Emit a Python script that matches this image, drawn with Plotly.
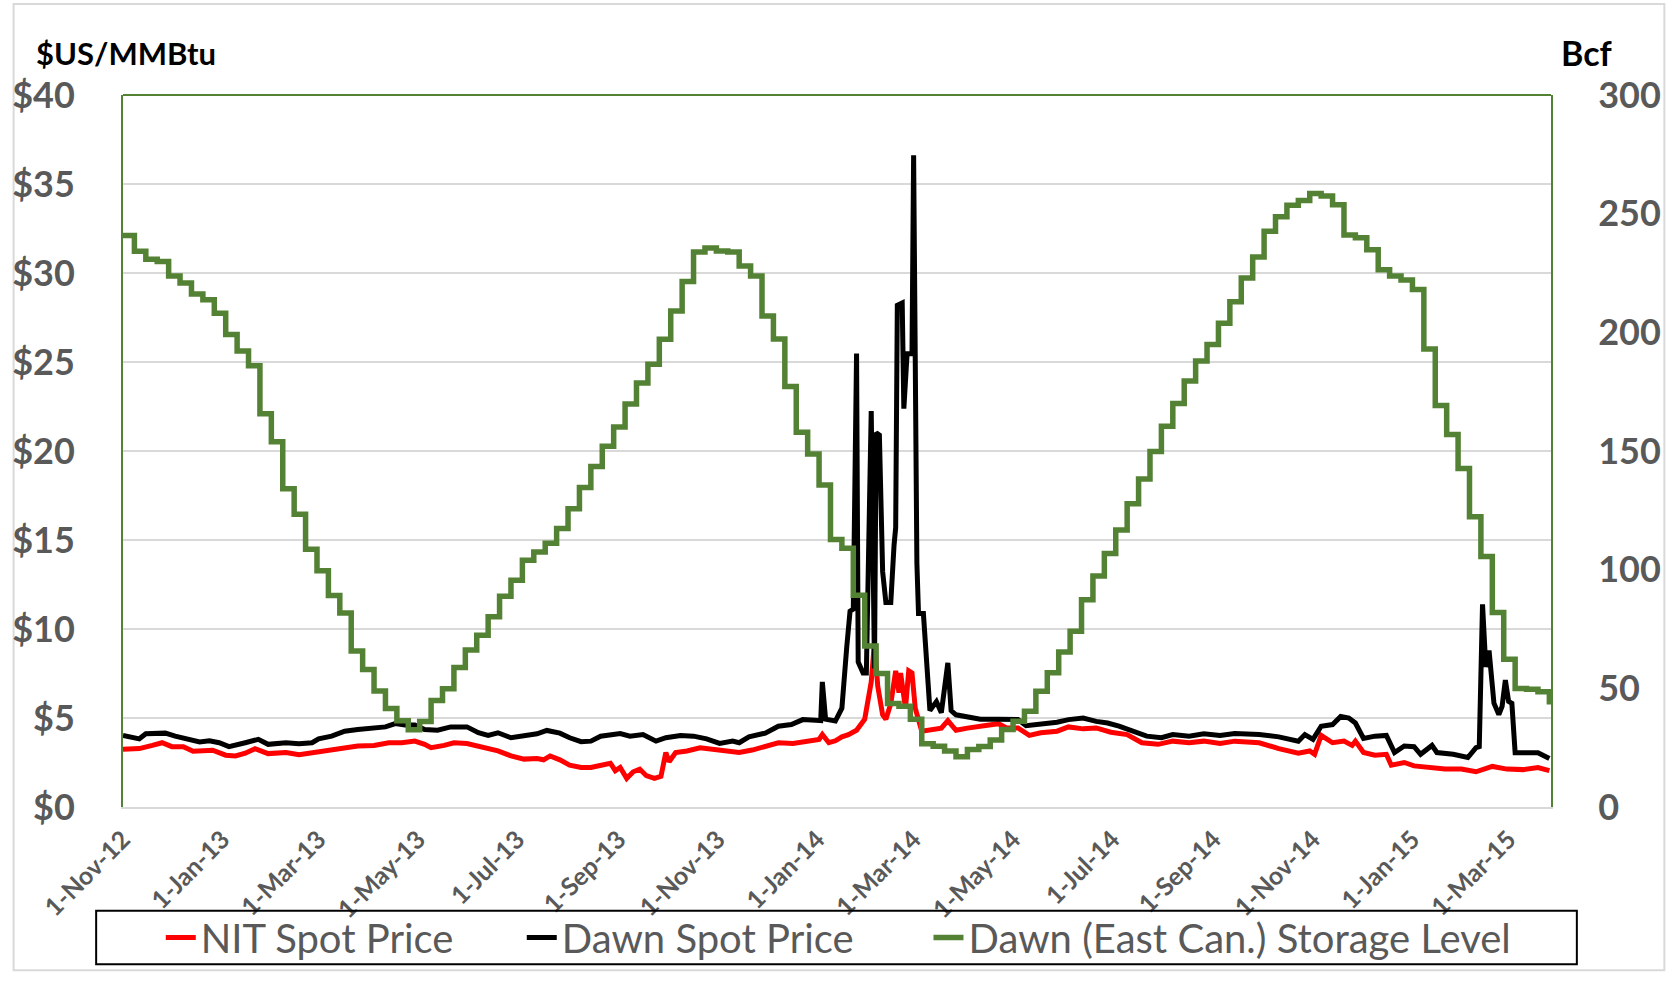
import pandas as pd
import plotly.graph_objects as go

# ---------------- data ----------------
nit_dates = [
    "2012-11-01", "2012-11-11", "2012-11-19", "2012-11-25", "2012-12-01", "2012-12-08",
    "2012-12-14", "2012-12-20", "2012-12-26", "2013-01-03", "2013-01-09", "2013-01-15",
    "2013-01-21", "2013-01-29", "2013-02-09", "2013-02-17", "2013-02-25", "2013-03-07",
    "2013-03-17", "2013-03-25", "2013-04-04", "2013-04-13", "2013-04-21", "2013-04-29",
    "2013-05-05", "2013-05-09", "2013-05-17", "2013-05-23", "2013-05-31", "2013-06-06",
    "2013-06-13", "2013-06-19", "2013-06-27", "2013-07-05", "2013-07-13", "2013-07-17",
    "2013-07-21", "2013-07-27", "2013-08-02", "2013-08-09", "2013-08-15", "2013-08-21",
    "2013-08-27", "2013-08-30", "2013-09-02", "2013-09-06", "2013-09-10", "2013-09-14",
    "2013-09-18", "2013-09-23", "2013-09-27", "2013-09-30", "2013-10-02", "2013-10-06",
    "2013-10-13", "2013-10-21", "2013-10-29", "2013-11-06", "2013-11-14", "2013-11-22",
    "2013-11-30", "2013-12-08", "2013-12-17", "2013-12-25", "2014-01-02", "2014-01-04",
    "2014-01-08", "2014-01-12", "2014-01-16", "2014-01-20", "2014-01-25", "2014-01-30",
    "2014-02-03", "2014-02-05", "2014-02-07", "2014-02-10", "2014-02-12", "2014-02-15",
    "2014-02-18", "2014-02-20", "2014-02-21", "2014-02-24", "2014-02-26", "2014-02-28",
    "2014-03-02", "2014-03-06", "2014-03-16", "2014-03-18", "2014-03-22", "2014-03-27",
    "2014-04-03", "2014-04-11", "2014-04-22", "2014-04-27", "2014-05-04", "2014-05-11",
    "2014-05-18", "2014-05-28", "2014-06-04", "2014-06-13", "2014-06-21", "2014-06-30",
    "2014-07-10", "2014-07-19", "2014-07-29", "2014-08-07", "2014-08-17", "2014-08-26",
    "2014-09-05", "2014-09-14", "2014-09-29", "2014-10-11", "2014-10-23", "2014-10-30",
    "2014-11-02", "2014-11-06", "2014-11-13", "2014-11-20", "2014-11-25", "2014-11-27",
    "2014-12-02", "2014-12-09", "2014-12-16", "2014-12-19", "2014-12-27", "2015-01-02",
    "2015-01-12", "2015-01-21", "2015-01-31", "2015-02-09", "2015-02-19", "2015-02-28",
    "2015-03-10", "2015-03-19", "2015-03-26",
]
nit_price = [
    3.24, 3.28, 3.46, 3.61, 3.39, 3.39,
    3.13, 3.13, 3.19, 2.91, 2.87, 3.02,
    3.28, 3.00, 3.06, 2.94, 3.06, 3.15,
    3.33, 3.43, 3.46, 3.61, 3.61, 3.70,
    3.52, 3.33, 3.46, 3.61, 3.57, 3.46,
    3.28, 3.15, 2.87, 2.69, 2.72, 2.65,
    2.87, 2.65, 2.35, 2.22, 2.22, 2.31,
    2.46, 2.04, 2.22, 1.61, 1.98, 2.13,
    1.76, 1.61, 1.72, 3.06, 2.54, 3.06,
    3.15, 3.33, 3.24, 3.15, 3.06, 3.20,
    3.39, 3.61, 3.57, 3.70, 3.80, 4.07,
    3.61, 3.72, 3.94, 4.06, 4.31, 4.93,
    7.03, 9.26, 6.79, 5.18, 4.93, 5.80,
    7.65, 6.42, 7.53, 5.55, 7.65, 7.53,
    5.55, 4.26, 4.36, 4.43, 4.85, 4.31,
    4.43, 4.56, 4.68, 4.44, 4.44, 4.02,
    4.17, 4.26, 4.50, 4.39, 4.44, 4.20,
    4.07, 3.61, 3.52, 3.70, 3.61, 3.70,
    3.57, 3.70, 3.61, 3.28, 3.02, 3.15,
    2.96, 4.02, 3.61, 3.70, 3.46, 3.70,
    3.06, 2.91, 2.96, 2.35, 2.50, 2.31,
    2.22, 2.13, 2.13, 1.98, 2.28, 2.13,
    2.10, 2.22, 2.04,
]

dawn_dates = [
    "2012-11-01", "2012-11-07", "2012-11-11", "2012-11-15", "2012-11-23", "2012-11-27",
    "2012-12-03", "2012-12-10", "2012-12-18", "2012-12-24", "2012-12-30", "2013-01-05",
    "2013-01-09", "2013-01-15", "2013-01-23", "2013-01-29", "2013-02-09", "2013-02-17",
    "2013-02-25", "2013-03-01", "2013-03-09", "2013-03-17", "2013-03-25", "2013-04-02",
    "2013-04-11", "2013-04-17", "2013-04-23", "2013-04-29", "2013-05-05", "2013-05-13",
    "2013-05-21", "2013-05-31", "2013-06-07", "2013-06-13", "2013-06-19", "2013-06-27",
    "2013-07-05", "2013-07-13", "2013-07-19", "2013-07-27", "2013-08-02", "2013-08-09",
    "2013-08-15", "2013-08-21", "2013-09-02", "2013-09-08", "2013-09-16", "2013-09-24",
    "2013-09-30", "2013-10-09", "2013-10-17", "2013-10-25", "2013-11-02", "2013-11-10",
    "2013-11-14", "2013-11-20", "2013-11-30", "2013-12-08", "2013-12-16", "2013-12-23",
    "2013-12-31", "2014-01-03", "2014-01-04", "2014-01-06", "2014-01-12", "2014-01-16",
    "2014-01-19", "2014-01-21", "2014-01-23", "2014-01-25", "2014-01-26", "2014-01-29",
    "2014-01-31", "2014-02-03", "2014-02-05", "2014-02-06", "2014-02-08", "2014-02-10",
    "2014-02-12", "2014-02-15", "2014-02-17", "2014-02-18", "2014-02-19", "2014-02-22",
    "2014-02-23", "2014-02-25", "2014-02-28", "2014-03-01", "2014-03-03", "2014-03-04",
    "2014-03-07", "2014-03-09", "2014-03-11", "2014-03-15", "2014-03-18", "2014-03-22",
    "2014-03-24", "2014-03-27", "2014-04-03", "2014-04-11", "2014-04-22", "2014-05-04",
    "2014-05-09", "2014-05-18", "2014-05-28", "2014-06-04", "2014-06-13", "2014-06-21",
    "2014-06-28", "2014-07-05", "2014-07-14", "2014-07-22", "2014-07-31", "2014-08-07",
    "2014-08-17", "2014-08-26", "2014-09-05", "2014-09-14", "2014-09-29", "2014-10-11",
    "2014-10-23", "2014-10-27", "2014-11-01", "2014-11-06", "2014-11-13", "2014-11-18",
    "2014-11-23", "2014-11-27", "2014-12-02", "2014-12-09", "2014-12-16", "2014-12-21",
    "2014-12-27", "2015-01-02", "2015-01-06", "2015-01-13", "2015-01-16", "2015-01-26",
    "2015-02-04", "2015-02-09", "2015-02-11", "2015-02-13", "2015-02-15", "2015-02-17",
    "2015-02-20", "2015-02-23", "2015-02-25", "2015-02-27", "2015-03-01", "2015-03-03",
    "2015-03-05", "2015-03-11", "2015-03-19", "2015-03-26",
]
dawn_price = [
    4.02, 3.94, 3.83, 4.11, 4.17, 4.15,
    3.98, 3.85, 3.65, 3.72, 3.61, 3.39,
    3.46, 3.61, 3.80, 3.52, 3.61, 3.56,
    3.61, 3.83, 3.98, 4.26, 4.35, 4.39,
    4.50, 4.69, 4.61, 4.61, 4.35, 4.31,
    4.50, 4.50, 4.17, 4.02, 4.17, 3.89,
    3.98, 4.11, 4.30, 4.15, 3.89, 3.67,
    3.70, 3.98, 4.13, 3.98, 4.07, 3.70,
    3.89, 4.02, 3.98, 3.83, 3.57, 3.70,
    3.61, 3.94, 4.15, 4.54, 4.63, 4.91,
    4.87, 4.85, 7.03, 4.93, 4.83, 5.55,
    9.01, 11.00, 11.12, 25.47, 8.15, 7.53,
    7.53, 22.25, 7.78, 21.02, 20.89, 13.22,
    11.49, 11.49, 14.71, 15.70, 28.19, 28.32,
    22.38, 25.47, 25.47, 36.61, 13.72, 10.87,
    10.87, 8.15, 5.42, 5.92, 5.30, 8.10,
    5.42, 5.18, 5.05, 4.93, 4.93, 4.91,
    4.57, 4.63, 4.76, 4.91, 5.00, 4.81,
    4.72, 4.54, 4.26, 3.98, 3.89, 4.07,
    3.98, 4.11, 4.02, 4.13, 4.07, 3.94,
    3.70, 4.07, 3.80, 4.54, 4.63, 5.09,
    5.00, 4.72, 3.85, 3.98, 4.02, 3.06,
    3.43, 3.39, 2.96, 3.46, 3.06, 2.96,
    2.78, 3.33, 3.39, 11.39, 7.87, 8.80,
    5.83, 5.19, 5.65, 7.13, 5.93, 5.83,
    3.05, 3.02, 3.05, 2.72,
]

# weekly storage level (Bcf), one value per week starting 1-Nov-12
storage_start = "2012-11-01"
storage_bcf = [
    240.8, 234.2, 230.8, 229.8, 223.7, 220.8, 216.2, 213.7, 208.0, 199.1,
    192.1, 185.9, 165.7, 153.9, 134.1, 123.3, 108.6, 99.5, 89.1, 81.7,
    65.7, 57.9, 48.9, 41.5, 36.3, 32.6, 36.0, 44.9, 49.8, 58.8,
    66.2, 72.4, 80.2, 88.8, 95.5, 104.0, 107.4, 111.1, 117.3, 125.7,
    134.6, 143.5, 152.0, 160.1, 169.8, 178.7, 186.6, 197.1, 209.0, 221.4,
    233.9, 235.5, 234.3, 233.9, 228.0, 223.7, 206.9, 197.2, 177.2, 157.9,
    148.7, 135.7, 112.7, 109.0, 89.2, 67.8, 56.3, 43.6, 42.5, 37.0,
    26.6, 25.6, 23.6, 21.2, 24.2, 25.5, 28.2, 32.7, 36.1, 40.3,
    48.8, 56.6, 65.3, 74.1, 87.3, 97.3, 106.8, 116.7, 127.8, 138.2,
    149.8, 160.4, 170.0, 179.5, 187.9, 194.9, 203.8, 212.9, 222.9, 231.7,
    242.6, 248.7, 253.5, 255.5, 258.5, 257.4, 253.8, 241.0, 239.9, 234.8,
    226.4, 223.7, 222.0, 218.0, 193.0, 169.2, 156.9, 142.6, 122.3, 105.5,
    82.0, 62.3, 49.9, 49.6, 48.6, 44.3,
]

x_start = "2012-11-01"
x_end = "2015-03-27"

series_names = ["NIT Spot Price", "Dawn Spot Price", "Dawn (East Can.) Storage Level"]
left_title = "$US/MMBtu"
right_title = "Bcf"

# ---------------- layout geometry (page pixels; page body margin removed) ----------------
W, H = 1673, 982
ML, MR, MT, MB = 120, 117, 95, 167
PW, PH = W - ML - MR, H - MT - MB


def px_x(p):
    """page x pixel -> paper coordinate"""
    return (p - ML) / PW


def px_y(p):
    """page y pixel -> paper coordinate"""
    return (H - MB - p) / PH


storage_dates = list(pd.date_range(storage_start, periods=len(storage_bcf), freq="7D"))
storage_x = storage_dates + [pd.Timestamp(x_end)]
storage_y = storage_bcf + [storage_bcf[-1]]

GREEN = "#548235"
GREY_TXT = "#595959"
FONT = "Lato"

fig = go.Figure()
fig.add_trace(go.Scatter(x=nit_dates, y=nit_price, name=series_names[0], mode="lines",
                         line=dict(color="#FF0000", width=5), legend="legend"))
fig.add_trace(go.Scatter(x=dawn_dates, y=dawn_price, name=series_names[1], mode="lines",
                         line=dict(color="#000000", width=5), legend="legend2"))
fig.add_trace(go.Scatter(x=storage_x, y=storage_y, name=series_names[2], mode="lines",
                         line=dict(color=GREEN, width=5.5, shape="hv"), yaxis="y2",
                         legend="legend3"))

tickfont = dict(family=FONT, size=36, color=GREY_TXT, weight="bold")
legend_font = dict(family=FONT, size=40, color=GREY_TXT)


def legend_at(page_x):
    return dict(orientation="h", x=px_x(page_x), xanchor="left", y=px_y(947),
                yanchor="middle", font=legend_font, bgcolor="rgba(0,0,0,0)",
                borderwidth=0)


fig.update_layout(
    width=W, height=H, autosize=False,
    margin=dict(l=ML, r=MR, t=MT, b=MB),
    paper_bgcolor="white", plot_bgcolor="white",
    font=dict(family=FONT, color=GREY_TXT),
    xaxis=dict(
        type="date", range=[x_start, x_end], tick0=x_start, dtick="M2",
        tickformat="%-d-%b-%y", tickangle=-45,
        tickfont=dict(family=FONT, size=25, color=GREY_TXT, weight="bold"),
        showgrid=False, zeroline=False,
        showline=True, linecolor="#D9D9D9", linewidth=2,
        ticks="outside", ticklen=6, tickcolor="rgba(0,0,0,0)",
    ),
    yaxis=dict(
        range=[0, 40], dtick=5, tickprefix="$", tickfont=tickfont,
        showgrid=True, gridcolor="#D9D9D9", gridwidth=1.5, zeroline=False,
        showline=True, linecolor=GREEN, linewidth=2,
        ticks="outside", ticklen=39, tickcolor="rgba(0,0,0,0)",
    ),
    yaxis2=dict(
        range=[0, 300], dtick=50, overlaying="y", side="right", tickfont=tickfont,
        showgrid=False, zeroline=False,
        showline=True, linecolor=GREEN, linewidth=2,
        ticks="outside", ticklen=38, tickcolor="rgba(0,0,0,0)",
    ),
    legend=legend_at(158),
    legend2=legend_at(521),
    legend3=legend_at(930),
    showlegend=True,
    hovermode=False,
)

# top border of plot area (green)
fig.add_shape(type="line", xref="paper", yref="paper", x0=0, x1=1, y0=1, y1=1,
              line=dict(color=GREEN, width=2))
# legend frame
fig.add_shape(type="rect", xref="paper", yref="paper",
              x0=px_x(93), x1=px_x(1582), y0=px_y(974), y1=px_y(920),
              line=dict(color="black", width=2), fillcolor="rgba(0,0,0,0)")
# outer chart frame
fig.add_shape(type="rect", xref="paper", yref="paper",
              x0=px_x(10), x1=px_x(1670), y0=px_y(980), y1=px_y(3),
              line=dict(color="#D9D9D9", width=2), fillcolor="rgba(0,0,0,0)", layer="below")

fig.add_annotation(text=left_title, xref="paper", yref="paper", x=px_x(30), y=px_y(53),
                   xanchor="left", yanchor="middle", showarrow=False,
                   font=dict(family=FONT, size=31, color="black", weight="bold"))
fig.add_annotation(text=right_title, xref="paper", yref="paper", x=px_x(1620), y=px_y(52),
                   xanchor="right", yanchor="middle", showarrow=False,
                   font=dict(family=FONT, size=34, color="black", weight="bold"))

fig.write_html(
    "out.html",
    config={"displayModeBar": False},
    post_script="document.body.style.margin='0';document.body.style.overflow='hidden';",
)
